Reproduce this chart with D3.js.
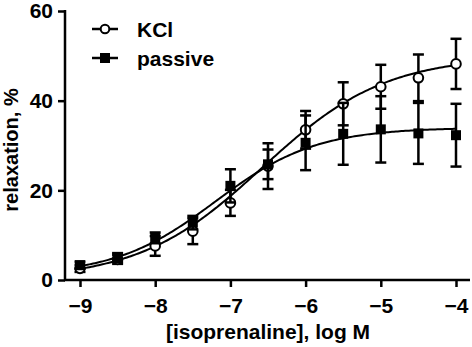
<!DOCTYPE html>
<html><head><meta charset="utf-8">
<script src="https://cdn.jsdelivr.net/npm/d3@7"></script>
<style>
html,body{margin:0;padding:0;background:#fff;}
svg text{font-family:"Liberation Sans",Arial,sans-serif;font-weight:bold;fill:#000;}
</style></head>
<body>
<svg id="chart" width="472" height="347"></svg>
<script>
// ---- data ----
const logConc = [-9, -8.5, -8, -7.5, -7, -6.5, -6, -5.5, -5, -4.5, -4];
const kclMean = [2.6, 4.6, 7.6, 10.9, 17.2, 25.4, 33.5, 39.3, 43.1, 45.1, 48.2];
const kclSem  = [0.8, 1.0, 2.2, 2.9, 2.9, 5.1, 4.2, 4.8, 4.9, 5.2, 5.6];
const passiveMean = [3.3, 5.0, 9.4, 12.8, 21.0, 25.8, 30.6, 32.6, 33.6, 32.7, 32.3];
const passiveSem  = [0.8, 1.0, 1.2, 1.5, 3.7, 3.3, 6.1, 6.9, 7.4, 6.8, 7.0];
// fitted sigmoidal dose-response parameters: [bottom, top, logEC50, hillSlope]
const kclFit = [0, 50, -6.58, 0.53];
const passiveFit = [1, 34, -7.2, 0.65];
const xTicks = [-9, -8, -7, -6, -5, -4];
const yTicks = [0, 20, 40, 60];
const seriesNames = ["KCl", "passive"];

const svg = d3.select("#chart");
const x = d3.scaleLinear().domain([-9, -4]).range([80, 456]);
const y = d3.scaleLinear().domain([0, 60]).range([280, 11]);
const xLeft = 65, xRight = 470;

// axes
const gx = svg.append("g").attr("transform", "translate(0,280)")
  .call(d3.axisBottom(x).tickValues(xTicks).tickSize(7).tickPadding(11).tickFormat(d3.format("d")));
gx.select(".domain").remove();
gx.selectAll(".tick line").attr("stroke", "#000").attr("stroke-width", 2.5);
gx.selectAll(".tick text").style("font-size", "21px").attr("dy", "0.71em");
svg.append("line").attr("x1", xLeft - 1).attr("x2", xRight).attr("y1", 280).attr("y2", 280)
  .attr("stroke", "#000").attr("stroke-width", 2.5);

const gy = svg.append("g").attr("transform", `translate(${xLeft},0)`)
  .call(d3.axisLeft(y).tickValues(yTicks).tickSize(7).tickPadding(5).tickFormat(d3.format("d")));
gy.select(".domain").remove();
gy.selectAll(".tick line").attr("stroke", "#000").attr("stroke-width", 2.5);
gy.selectAll(".tick text").style("font-size", "21px");
svg.append("line").attr("x1", xLeft).attr("x2", xLeft).attr("y1", y(60) - 1).attr("y2", 281)
  .attr("stroke", "#000").attr("stroke-width", 2.5);

// axis titles
svg.append("text").attr("x", 268).attr("y", 339).attr("text-anchor", "middle")
  .style("font-size", "21px").text("[isoprenaline], log M");
svg.append("text").attr("transform", "translate(18,150) rotate(-90)").attr("text-anchor", "middle")
  .style("font-size", "20px").text("relaxation, %");

// fitted curves
function sig(p, xv) { return p[0] + (p[1] - p[0]) / (1 + Math.pow(10, (p[2] - xv) * p[3])); }
const curveX = d3.range(0, 201).map(i => -9 + i * 5 / 200);
const line = d3.line().x(d => x(d[0])).y(d => y(d[1]));
[kclFit, passiveFit].forEach(p => {
  svg.append("path").datum(curveX.map(v => [v, sig(p, v)]))
    .attr("d", line).attr("fill", "none").attr("stroke", "#000").attr("stroke-width", 2);
});

function drawErr(means, sems) {
  const g = svg.append("g").attr("stroke", "#000").attr("stroke-width", 2.5);
  logConc.forEach((c, i) => {
    const cx = x(c), t = y(means[i] + sems[i]), b = y(means[i] - sems[i]);
    g.append("line").attr("x1", cx).attr("x2", cx).attr("y1", t).attr("y2", b);
    g.append("line").attr("x1", cx - 5.5).attr("x2", cx + 5.5).attr("y1", t).attr("y2", t);
    g.append("line").attr("x1", cx - 5.5).attr("x2", cx + 5.5).attr("y1", b).attr("y2", b);
  });
}
// KCl
drawErr(kclMean, kclSem);
svg.append("g").selectAll("circle").data(logConc).join("circle")
  .attr("cx", d => x(d)).attr("cy", (d, i) => y(kclMean[i])).attr("r", 4.8)
  .attr("fill", "#fff").attr("stroke", "#000").attr("stroke-width", 2);
// passive
drawErr(passiveMean, passiveSem);
svg.append("g").selectAll("rect").data(logConc).join("rect")
  .attr("x", d => x(d) - 5).attr("y", (d, i) => y(passiveMean[i]) - 5)
  .attr("width", 10).attr("height", 10).attr("fill", "#000");

// legend
const leg = svg.append("g");
const legY = [29, 58];
seriesNames.forEach((name, i) => {
  leg.append("line").attr("x1", 92).attr("x2", 118).attr("y1", legY[i]).attr("y2", legY[i])
    .attr("stroke", "#000").attr("stroke-width", 2.5);
  if (i === 0) {
    leg.append("circle").attr("cx", 105).attr("cy", legY[i]).attr("r", 4.3)
      .attr("fill", "#fff").attr("stroke", "#000").attr("stroke-width", 2);
  } else {
    leg.append("rect").attr("x", 100).attr("y", legY[i] - 5).attr("width", 10).attr("height", 10).attr("fill", "#000");
  }
  leg.append("text").attr("x", 137).attr("y", legY[i]).attr("dy", "0.36em")
    .style("font-size", "21px").text(name);
});
</script>
</body></html>
